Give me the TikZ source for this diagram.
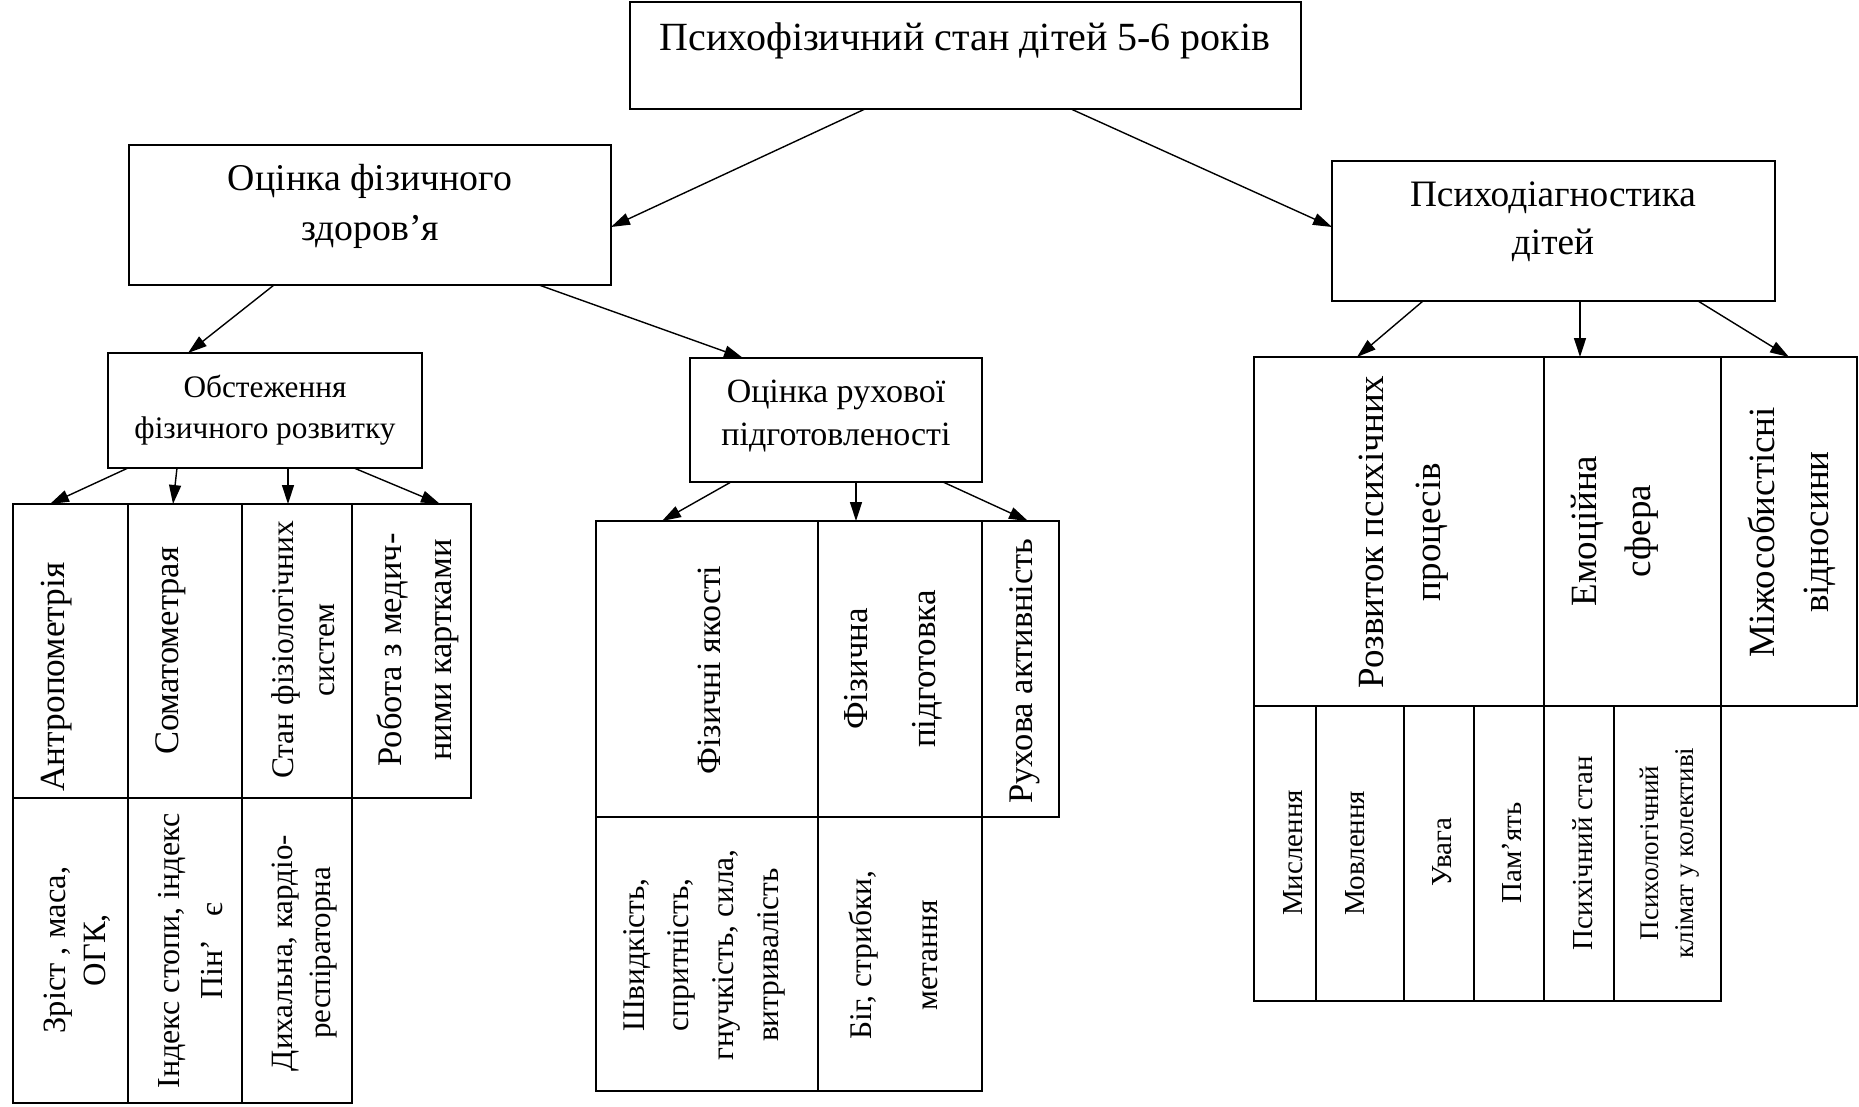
\documentclass[tikz,border=0pt]{standalone}
\usepackage{fontspec}
\setmainfont{Liberation Serif}
\usetikzlibrary{arrows.meta,calc}
\newcommand{\fsz}[2]{\fontsize{#1}{#2}\selectfont}
\begin{document}
\begin{tikzpicture}[x=1pt,y=-1pt,
  box/.style={draw, line width=1.8pt, inner sep=0pt, outer sep=0pt, anchor=north west},
  arr/.style={line width=1.4pt, -{Triangle[length=19pt,width=12pt]}},
  lbl/.style={align=center, inner sep=0pt},
  vlbl/.style={align=center, inner sep=0pt, rotate=90}]
\useasboundingbox (0,0) rectangle (1859,1106);

% upper boxes
\node[box, minimum width=671pt, minimum height=107pt] (top) at (630,2) {};
\node[box, minimum width=482pt, minimum height=140pt] (ofz) at (129,145) {};
\node[box, minimum width=443pt, minimum height=140pt] (pd) at (1332,161) {};
\node[box, minimum width=314pt, minimum height=115pt] (obst) at (108,353) {};
\node[box, minimum width=292pt, minimum height=124pt] (orp) at (690,358) {};

\node[lbl, font=\fsz{40}{46}] (ttop) at (965,41) {Психофізичний стан дітей 5-6 років};
\node[lbl, font=\fsz{37.8}{50}] (tofz) at (370,206) {Оцінка фізичного\\здоров’я};
\node[lbl, font=\fsz{37.3}{48}] (tpd) at (1553,222) {Психодіагностика\\дітей};
\node[lbl, font=\fsz{31.3}{41}] (tobst) at (265,410) {Обстеження\\фізичного розвитку};
\node[lbl, font=\fsz{34}{43}] (torp) at (836,416) {Оцінка рухової\\підготовленості};

% left table
\node[box, minimum width=115pt, minimum height=294pt] (a1) at (13,504) {};
\node[box, minimum width=114pt, minimum height=294pt] (a2) at (128,504) {};
\node[box, minimum width=110pt, minimum height=294pt] (a3) at (242,504) {};
\node[box, minimum width=119pt, minimum height=294pt] (a4) at (352,504) {};
\node[box, minimum width=115pt, minimum height=305pt] (b1) at (13,798) {};
\node[box, minimum width=114pt, minimum height=305pt] (b2) at (128,798) {};
\node[box, minimum width=110pt, minimum height=305pt] (b3) at (242,798) {};

\node[vlbl, font=\fsz{35.3}{40}] (ta1) at (57,677) {Антропометрія};
\node[vlbl, font=\fsz{34.5}{40}] (ta2) at (171,651) {Соматометрая};
\node[vlbl, font=\fsz{31.5}{41}] (ta3) at (303,650) {Стан фізіологічних\\систем};
\node[vlbl, font=\fsz{34.5}{50}] (ta4) at (418,650) {Робота з медич-\\ними картками};
\node[vlbl, font=\fsz{32.5}{40}] (tb1) at (77,950) {Зріст , маса,\\ОГК,};
\node[vlbl, font=\fsz{32}{43}] (tb2) at (191,951) {Індекс стопи, індекс\\Пін’\ \ \ є};
\node[vlbl, font=\fsz{31}{38}] (tb3) at (305,953) {Дихальна, кардіо-\\респіраторна};

% middle table
\node[box, minimum width=222pt, minimum height=296pt] (m1) at (596,521) {};
\node[box, minimum width=164pt, minimum height=296pt] (m2) at (818,521) {};
\node[box, minimum width=77pt, minimum height=296pt] (m3) at (982,521) {};
\node[box, minimum width=222pt, minimum height=274pt] (n1) at (596,817) {};
\node[box, minimum width=164pt, minimum height=274pt] (n2) at (818,817) {};

\node[vlbl, font=\fsz{34}{40}] (tm1) at (709,670) {Фізичні якості};
\node[vlbl, font=\fsz{35}{68}] (tm2) at (893,669) {Фізична\\підготовка};
\node[vlbl, font=\fsz{34.5}{40}] (tm3) at (1025,671) {Рухова активність};
\node[vlbl, font=\fsz{31.5}{44.7}] (tn1) at (704,955) {Швидкість,\\спритність,\\гнучкість, сила,\\витривалість};
\node[vlbl, font=\fsz{31.5}{66}] (tn2) at (893,955) {Біг, стрибки,\\метання};

% right table
\node[box, minimum width=290pt, minimum height=349pt] (r1) at (1254,357) {};
\node[box, minimum width=177pt, minimum height=349pt] (r2) at (1544,357) {};
\node[box, minimum width=136pt, minimum height=349pt] (r3) at (1721,357) {};
\node[box, minimum width=62pt, minimum height=295pt] (s1) at (1254,706) {};
\node[box, minimum width=88pt, minimum height=295pt] (s2) at (1316,706) {};
\node[box, minimum width=70pt, minimum height=295pt] (s3) at (1404,706) {};
\node[box, minimum width=70pt, minimum height=295pt] (s4) at (1474,706) {};
\node[box, minimum width=70pt, minimum height=295pt] (s5) at (1544,706) {};
\node[box, minimum width=107pt, minimum height=295pt] (s6) at (1614,706) {};

\node[vlbl, font=\fsz{37}{57}] (tr1) at (1404,532) {Розвиток психічних\\процесів};
\node[vlbl, font=\fsz{37}{54}] (tr2) at (1615,531) {Емоційна\\сфера};
\node[vlbl, font=\fsz{37}{54}] (tr3) at (1792,532) {Міжособистісні\\відносини};
\node[vlbl, font=\fsz{29}{35}] (ts1) at (1293,853) {Мислення};
\node[vlbl, font=\fsz{29}{35}] (ts2) at (1355,853) {Мовлення};
\node[vlbl, font=\fsz{29}{35}] (ts3) at (1442,852) {Увага};
\node[vlbl, font=\fsz{29}{35}] (ts4) at (1512,853) {Пам’ять};
\node[vlbl, font=\fsz{29}{35}] (ts5) at (1583,853) {Психічний стан};
\node[vlbl, font=\fsz{27}{35}] (ts6) at (1670,853) {Психологічний\\клімат у колективі};

% arrows
\draw[arr] ($(top.south west)+(235,0)$) -- ($(ofz.north east)+(0,82)$);
\draw[arr] ($(top.south west)+(441,0)$) -- ($(pd.north west)+(0,66)$);
\draw[arr] ($(ofz.south west)+(145,0)$) -- ($(obst.north west)+(80,0)$);
\draw[arr] ($(ofz.south west)+(410,0)$) -- ($(orp.north west)+(53,0)$);
\draw[arr] ($(obst.south west)+(20,0)$) -- ($(a1.north west)+(37,0)$);
\draw[arr] ($(obst.south west)+(69,0)$) -- ($(a2.north west)+(45,0)$);
\draw[arr] ($(obst.south west)+(180,0)$) -- ($(a3.north west)+(46,0)$);
\draw[arr] ($(obst.south west)+(246,0)$) -- ($(a4.north west)+(88,0)$);
\draw[arr] ($(orp.south west)+(41,0)$) -- ($(m1.north west)+(66,0)$);
\draw[arr] ($(orp.south west)+(166,0)$) -- ($(m2.north west)+(38,0)$);
\draw[arr] ($(orp.south west)+(253,0)$) -- ($(m3.north west)+(46,0)$);
\draw[arr] ($(pd.south west)+(91,0)$) -- ($(r1.north west)+(103,0)$);
\draw[arr] ($(pd.south west)+(248,0)$) -- ($(r2.north west)+(36,0)$);
\draw[arr] ($(pd.south west)+(366,0)$) -- ($(r3.north west)+(68,0)$);
\end{tikzpicture}
\end{document}
